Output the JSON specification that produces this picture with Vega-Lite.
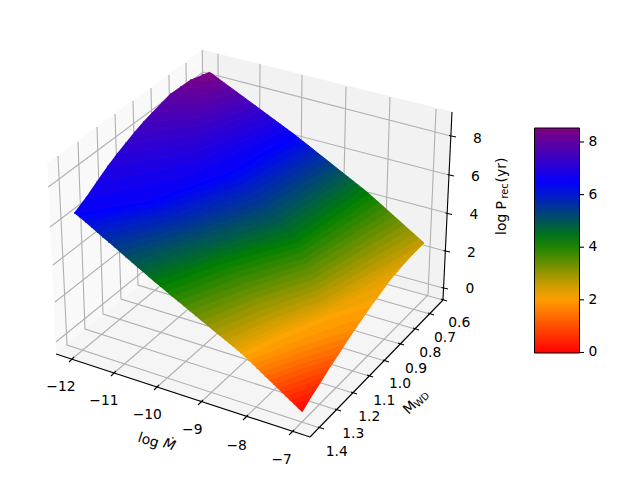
{"$schema":"https://vega.github.io/schema/vega-lite/v6.json","width":640,"height":480,"padding":0,"autosize":{"type":"none"},"background":"white","config":{"view":{"stroke":null},"text":{"font":"DejaVu Sans"}},
"datasets":{
"panes":[
{"g":"left","n":1,"u":47.3,"v":163.3},{"g":"left","n":2,"u":202.3,"v":50},{"g":"left","n":3,"u":204,"v":233},{"g":"left","n":4,"u":56,"v":354},
{"g":"back","n":1,"u":202.3,"v":50},{"g":"back","n":2,"u":451.7,"v":111.7},{"g":"back","n":3,"u":443,"v":300},{"g":"back","n":4,"u":204,"v":233},
{"g":"floor","n":1,"u":56,"v":354},{"g":"floor","n":2,"u":204,"v":233},{"g":"floor","n":3,"u":443,"v":300},{"g":"floor","n":4,"u":310,"v":437}],
"grid":[
{"g":"x12","n":1,"u":218,"v":54},{"g":"x12","n":2,"u":219,"v":237},{"g":"x12","n":3,"u":72,"v":359},
{"g":"x11","n":1,"u":260,"v":64},{"g":"x11","n":2,"u":259,"v":248},{"g":"x11","n":3,"u":114,"v":373},
{"g":"x10","n":1,"u":302,"v":75},{"g":"x10","n":2,"u":300,"v":260},{"g":"x10","n":3,"u":157,"v":387},
{"g":"x9","n":1,"u":346,"v":87},{"g":"x9","n":2,"u":342,"v":271},{"g":"x9","n":3,"u":201,"v":402},
{"g":"x8","n":1,"u":390,"v":97},{"g":"x8","n":2,"u":384,"v":283},{"g":"x8","n":3,"u":246,"v":417},
{"g":"x7","n":1,"u":436,"v":109},{"g":"x7","n":2,"u":428,"v":295},{"g":"x7","n":3,"u":292,"v":432},
{"g":"m14","n":1,"u":58,"v":156},{"g":"m14","n":2,"u":67,"v":345},{"g":"m14","n":3,"u":320,"v":428},
{"g":"m13","n":1,"u":78,"v":142},{"g":"m13","n":2,"u":85,"v":329},{"g":"m13","n":3,"u":337,"v":410},
{"g":"m12","n":1,"u":97,"v":127},{"g":"m12","n":2,"u":103,"v":314},{"g":"m12","n":3,"u":353,"v":393},
{"g":"m11","n":1,"u":115,"v":114},{"g":"m11","n":2,"u":121,"v":299},{"g":"m11","n":3,"u":369,"v":376},
{"g":"m10","n":1,"u":133,"v":101},{"g":"m10","n":2,"u":138,"v":285},{"g":"m10","n":3,"u":385,"v":361},
{"g":"m09","n":1,"u":151,"v":88},{"g":"m09","n":2,"u":155,"v":271},{"g":"m09","n":3,"u":400,"v":344},
{"g":"m08","n":1,"u":169,"v":75},{"g":"m08","n":2,"u":171,"v":257},{"g":"m08","n":3,"u":415,"v":329},
{"g":"m07","n":1,"u":186,"v":63},{"g":"m07","n":2,"u":188,"v":245},{"g":"m07","n":3,"u":430,"v":314},
{"g":"m06","n":1,"u":202.3,"v":50},{"g":"m06","n":2,"u":204,"v":233},{"g":"m06","n":3,"u":443,"v":300},
{"g":"z8","n":1,"u":48.3,"v":187},{"g":"z8","n":2,"u":203,"v":72},{"g":"z8","n":3,"u":451,"v":136},
{"g":"z6","n":1,"u":50,"v":227},{"g":"z6","n":2,"u":203,"v":111},{"g":"z6","n":3,"u":449,"v":175},
{"g":"z4","n":1,"u":53,"v":265},{"g":"z4","n":2,"u":203,"v":149},{"g":"z4","n":3,"u":447,"v":213},
{"g":"z2","n":1,"u":55,"v":302},{"g":"z2","n":2,"u":204,"v":185},{"g":"z2","n":3,"u":445,"v":251},
{"g":"z0","n":1,"u":56,"v":342},{"g":"z0","n":2,"u":204,"v":222},{"g":"z0","n":3,"u":443,"v":288}],
"axes":[
{"g":"a1","n":1,"u":56,"v":354},{"g":"a1","n":2,"u":310,"v":437},
{"g":"a2","n":1,"u":310,"v":437},{"g":"a2","n":2,"u":443,"v":300},
{"g":"a3","n":1,"u":443,"v":300},{"g":"a3","n":2,"u":452,"v":112},
{"g":"t1","n":1,"u":74,"v":357},{"g":"t1","n":2,"u":69,"v":362},
{"g":"t2","n":1,"u":116,"v":371},{"g":"t2","n":2,"u":111,"v":376},
{"g":"t3","n":1,"u":159,"v":385},{"g":"t3","n":2,"u":154,"v":390},
{"g":"t4","n":1,"u":203,"v":400},{"g":"t4","n":2,"u":198,"v":405},
{"g":"t5","n":1,"u":248,"v":415},{"g":"t5","n":2,"u":243,"v":420},
{"g":"t6","n":1,"u":294,"v":430},{"g":"t6","n":2,"u":289,"v":435},
{"g":"t7","n":1,"u":318,"v":427},{"g":"t7","n":2,"u":324,"v":429},
{"g":"t8","n":1,"u":335,"v":409},{"g":"t8","n":2,"u":341,"v":411},
{"g":"t9","n":1,"u":351,"v":392},{"g":"t9","n":2,"u":357,"v":394},
{"g":"t10","n":1,"u":367,"v":375},{"g":"t10","n":2,"u":373,"v":377},
{"g":"t11","n":1,"u":383,"v":360},{"g":"t11","n":2,"u":389,"v":362},
{"g":"t12","n":1,"u":398,"v":343},{"g":"t12","n":2,"u":404,"v":345},
{"g":"t13","n":1,"u":413,"v":328},{"g":"t13","n":2,"u":419,"v":330},
{"g":"t14","n":1,"u":428,"v":313},{"g":"t14","n":2,"u":434,"v":315},
{"g":"t15","n":1,"u":441,"v":299},{"g":"t15","n":2,"u":447,"v":301},
{"g":"t16","n":1,"u":449,"v":135.5},{"g":"t16","n":2,"u":456,"v":137},
{"g":"t17","n":1,"u":447.5,"v":174.5},{"g":"t17","n":2,"u":454,"v":176},
{"g":"t18","n":1,"u":445.5,"v":213},{"g":"t18","n":2,"u":452,"v":214.5},
{"g":"t19","n":1,"u":443.5,"v":250.5},{"g":"t19","n":2,"u":450,"v":252},
{"g":"t20","n":1,"u":441.5,"v":287.5},{"g":"t20","n":2,"u":448,"v":289},
{"g":"c0","n":1,"u":580,"v":352.5},{"g":"c0","n":2,"u":584,"v":352.5},
{"g":"c2","n":1,"u":580,"v":299.8},{"g":"c2","n":2,"u":584,"v":299.8},
{"g":"c4","n":1,"u":580,"v":247.2},{"g":"c4","n":2,"u":584,"v":247.2},
{"g":"c6","n":1,"u":580,"v":194.6},{"g":"c6","n":2,"u":584,"v":194.6},
{"g":"c8","n":1,"u":580,"v":142},{"g":"c8","n":2,"u":584,"v":142}],
"surface":[
{"hi":0.075,"n":1,"u":302,"v":412},
{"lo":0.075,"hi":0.225,"n":1,"u":297.9,"v":408},{"lo":0.075,"hi":0.225,"n":2,"u":306.5,"v":404.5},
{"lo":0.225,"hi":0.375,"n":1,"u":293.7,"v":404},{"lo":0.225,"hi":0.375,"n":2,"u":311,"v":397},
{"lo":0.375,"hi":0.525,"n":1,"u":289.6,"v":400},{"lo":0.375,"hi":0.525,"n":2,"u":315.5,"v":390},
{"lo":0.525,"hi":0.675,"n":1,"u":285.4,"v":396},{"lo":0.525,"hi":0.675,"n":2,"u":320,"v":383},
{"lo":0.675,"hi":0.825,"n":1,"u":281.3,"v":392},{"lo":0.675,"hi":0.825,"n":2,"u":324,"v":376.5},
{"lo":0.825,"hi":0.975,"n":1,"u":277.2,"v":388.1},{"lo":0.825,"hi":0.975,"n":2,"u":328,"v":370},
{"lo":0.975,"hi":1.125,"n":1,"u":273,"v":384.1},{"lo":0.975,"hi":1.125,"n":2,"u":302.5,"v":373},{"lo":0.975,"hi":1.125,"n":3,"u":332,"v":364},
{"lo":1.125,"hi":1.275,"n":1,"u":268.9,"v":380.1},{"lo":1.125,"hi":1.275,"n":2,"u":302,"v":368},{"lo":1.125,"hi":1.275,"n":3,"u":336,"v":358},
{"lo":1.275,"hi":1.425,"n":1,"u":264.7,"v":376.1},{"lo":1.275,"hi":1.425,"n":2,"u":302,"v":363},{"lo":1.275,"hi":1.425,"n":3,"u":340,"v":352},
{"lo":1.425,"hi":1.575,"n":1,"u":260.6,"v":372.1},{"lo":1.425,"hi":1.575,"n":2,"u":303,"v":357},{"lo":1.425,"hi":1.575,"n":3,"u":345,"v":344},
{"lo":1.575,"hi":1.725,"n":1,"u":256.5,"v":368.1},{"lo":1.575,"hi":1.725,"n":2,"u":303,"v":351},{"lo":1.575,"hi":1.725,"n":3,"u":350,"v":336.5},
{"lo":1.725,"hi":1.875,"n":1,"u":252.3,"v":364.1},{"lo":1.725,"hi":1.875,"n":2,"u":303.5,"v":345},{"lo":1.725,"hi":1.875,"n":3,"u":355,"v":329},
{"lo":1.875,"hi":2.025,"n":1,"u":248.2,"v":360.1},{"lo":1.875,"hi":2.025,"n":2,"u":305,"v":337},{"lo":1.875,"hi":2.025,"n":3,"u":363,"v":317.5},
{"lo":2.025,"hi":2.15,"n":1,"u":244,"v":356.1},{"lo":2.025,"hi":2.15,"n":2,"u":286,"v":337},{"lo":2.025,"hi":2.15,"n":3,"u":329,"v":319},{"lo":2.025,"hi":2.15,"n":4,"u":370.6,"v":306.5},
{"lo":2.15,"hi":2.25,"n":1,"u":240.6,"v":353.1},{"lo":2.15,"hi":2.25,"n":2,"u":283,"v":333},{"lo":2.15,"hi":2.25,"n":3,"u":327,"v":315},{"lo":2.15,"hi":2.25,"n":4,"u":377,"v":298},
{"lo":2.25,"hi":2.35,"n":1,"u":236.7,"v":349.8},{"lo":2.25,"hi":2.35,"n":2,"u":281,"v":329},{"lo":2.25,"hi":2.35,"n":3,"u":326,"v":311},{"lo":2.25,"hi":2.35,"n":4,"u":390,"v":280},
{"lo":2.35,"hi":2.45,"n":1,"u":232.8,"v":346.6},{"lo":2.35,"hi":2.45,"n":2,"u":278,"v":326},{"lo":2.35,"hi":2.45,"n":3,"u":324,"v":308},{"lo":2.35,"hi":2.45,"n":4,"u":402,"v":266},
{"lo":2.45,"hi":2.55,"n":1,"u":228.9,"v":343.3},{"lo":2.45,"hi":2.55,"n":2,"u":275,"v":322},{"lo":2.45,"hi":2.55,"n":3,"u":323,"v":304},{"lo":2.45,"hi":2.55,"n":4,"u":413,"v":254},
{"lo":2.55,"hi":2.675,"n":1,"u":224.9,"v":340.1},{"lo":2.55,"hi":2.675,"n":2,"u":272,"v":319},{"lo":2.55,"hi":2.675,"n":3,"u":321,"v":301},{"lo":2.55,"hi":2.675,"n":4,"u":424,"v":243},
{"lo":2.675,"hi":2.825,"n":1,"u":219,"v":335.2},{"lo":2.675,"hi":2.825,"n":2,"u":268,"v":314},{"lo":2.675,"hi":2.825,"n":3,"u":319,"v":295},{"lo":2.675,"hi":2.825,"n":4,"u":419,"v":238.5},
{"lo":2.825,"hi":2.975,"n":1,"u":213.1,"v":330.4},{"lo":2.825,"hi":2.975,"n":2,"u":264,"v":309},{"lo":2.825,"hi":2.975,"n":3,"u":317,"v":290},{"lo":2.825,"hi":2.975,"n":4,"u":414,"v":234},
{"lo":2.975,"hi":3.125,"n":1,"u":207.2,"v":325.5},{"lo":2.975,"hi":3.125,"n":2,"u":260,"v":303},{"lo":2.975,"hi":3.125,"n":3,"u":315,"v":285},{"lo":2.975,"hi":3.125,"n":4,"u":408.9,"v":229.5},
{"lo":3.125,"hi":3.275,"n":1,"u":201.3,"v":320.7},{"lo":3.125,"hi":3.275,"n":2,"u":256,"v":298},{"lo":3.125,"hi":3.275,"n":3,"u":313,"v":279},{"lo":3.125,"hi":3.275,"n":4,"u":403.9,"v":225},
{"lo":3.275,"hi":3.425,"n":1,"u":195.4,"v":315.8},{"lo":3.275,"hi":3.425,"n":2,"u":252,"v":293},{"lo":3.275,"hi":3.425,"n":3,"u":311,"v":274},{"lo":3.275,"hi":3.425,"n":4,"u":398.9,"v":220.5},
{"lo":3.425,"hi":3.575,"n":1,"u":189.6,"v":310.9},{"lo":3.425,"hi":3.575,"n":2,"u":248,"v":288},{"lo":3.425,"hi":3.575,"n":3,"u":308,"v":268},{"lo":3.425,"hi":3.575,"n":4,"u":393.8,"v":216},
{"lo":3.575,"hi":3.725,"n":1,"u":183.7,"v":306.1},{"lo":3.575,"hi":3.725,"n":2,"u":244,"v":283},{"lo":3.575,"hi":3.725,"n":3,"u":306,"v":263},{"lo":3.575,"hi":3.725,"n":4,"u":388.8,"v":211.5},
{"lo":3.725,"hi":3.875,"n":1,"u":177.8,"v":301.2},{"lo":3.725,"hi":3.875,"n":2,"u":240,"v":277},{"lo":3.725,"hi":3.875,"n":3,"u":304,"v":258},{"lo":3.725,"hi":3.875,"n":4,"u":383.8,"v":207},
{"lo":3.875,"hi":4.025,"n":1,"u":171.9,"v":296.4},{"lo":3.875,"hi":4.025,"n":2,"u":236,"v":272},{"lo":3.875,"hi":4.025,"n":3,"u":302,"v":252},{"lo":3.875,"hi":4.025,"n":4,"u":378.8,"v":202.5},
{"lo":4.025,"hi":4.175,"n":1,"u":166,"v":291.5},{"lo":4.025,"hi":4.175,"n":2,"u":231,"v":267},{"lo":4.025,"hi":4.175,"n":3,"u":300,"v":247},{"lo":4.025,"hi":4.175,"n":4,"u":373.7,"v":198},
{"lo":4.175,"hi":4.325,"n":1,"u":160.1,"v":286.6},{"lo":4.175,"hi":4.325,"n":2,"u":227,"v":262},{"lo":4.175,"hi":4.325,"n":3,"u":298,"v":242},{"lo":4.175,"hi":4.325,"n":4,"u":368.7,"v":193.5},
{"lo":4.325,"hi":4.475,"n":1,"u":154.2,"v":281.7},{"lo":4.325,"hi":4.475,"n":2,"u":222,"v":257},{"lo":4.325,"hi":4.475,"n":3,"u":294,"v":237},{"lo":4.325,"hi":4.475,"n":4,"u":363.7,"v":189.4},
{"lo":4.475,"hi":4.625,"n":1,"u":148.5,"v":276.8},{"lo":4.475,"hi":4.625,"n":2,"u":217,"v":253},{"lo":4.475,"hi":4.625,"n":3,"u":289,"v":232},{"lo":4.475,"hi":4.625,"n":4,"u":358.6,"v":185.4},
{"lo":4.625,"hi":4.775,"n":1,"u":142.7,"v":271.8},{"lo":4.625,"hi":4.775,"n":2,"u":212,"v":249},{"lo":4.625,"hi":4.775,"n":3,"u":284,"v":227},{"lo":4.625,"hi":4.775,"n":4,"u":353.6,"v":181.4},
{"lo":4.775,"hi":4.925,"n":1,"u":137,"v":266.9},{"lo":4.775,"hi":4.925,"n":2,"u":207,"v":245},{"lo":4.775,"hi":4.925,"n":3,"u":279,"v":223},{"lo":4.775,"hi":4.925,"n":4,"u":348.6,"v":177.4},
{"lo":4.925,"hi":5.075,"n":1,"u":131.3,"v":261.9},{"lo":4.925,"hi":5.075,"n":2,"u":201,"v":240},{"lo":4.925,"hi":5.075,"n":3,"u":275,"v":218},{"lo":4.925,"hi":5.075,"n":4,"u":343.6,"v":173.5},
{"lo":5.075,"hi":5.225,"n":1,"u":125.5,"v":257},{"lo":5.075,"hi":5.225,"n":2,"u":196,"v":236},{"lo":5.075,"hi":5.225,"n":3,"u":270,"v":213},{"lo":5.075,"hi":5.225,"n":4,"u":338.5,"v":169.5},
{"lo":5.225,"hi":5.375,"n":1,"u":119.8,"v":252},{"lo":5.225,"hi":5.375,"n":2,"u":191,"v":232},{"lo":5.225,"hi":5.375,"n":3,"u":265,"v":208},{"lo":5.225,"hi":5.375,"n":4,"u":333.5,"v":165.5},
{"lo":5.375,"hi":5.525,"n":1,"u":114.1,"v":247},{"lo":5.375,"hi":5.525,"n":2,"u":185,"v":228},{"lo":5.375,"hi":5.525,"n":3,"u":260,"v":204},{"lo":5.375,"hi":5.525,"n":4,"u":328.5,"v":161.5},
{"lo":5.525,"hi":5.675,"n":1,"u":108.3,"v":242.1},{"lo":5.525,"hi":5.675,"n":2,"u":180,"v":224},{"lo":5.525,"hi":5.675,"n":3,"u":255,"v":199},{"lo":5.525,"hi":5.675,"n":4,"u":323.5,"v":157.6},
{"lo":5.675,"hi":5.825,"n":1,"u":102.6,"v":237.2},{"lo":5.675,"hi":5.825,"n":2,"u":175,"v":220},{"lo":5.675,"hi":5.825,"n":3,"u":250,"v":194},{"lo":5.675,"hi":5.825,"n":4,"u":318.4,"v":153.6},
{"lo":5.825,"hi":5.975,"n":1,"u":96.9,"v":232.2},{"lo":5.825,"hi":5.975,"n":2,"u":169,"v":215},{"lo":5.825,"hi":5.975,"n":3,"u":246,"v":189},{"lo":5.825,"hi":5.975,"n":4,"u":313.4,"v":149.6},
{"lo":5.975,"hi":6.125,"n":1,"u":91.2,"v":227.3},{"lo":5.975,"hi":6.125,"n":2,"u":164,"v":211},{"lo":5.975,"hi":6.125,"n":3,"u":241,"v":185},{"lo":5.975,"hi":6.125,"n":4,"u":308.4,"v":145.6},
{"lo":6.125,"hi":6.275,"n":1,"u":85.4,"v":222.3},{"lo":6.125,"hi":6.275,"n":2,"u":159,"v":207},{"lo":6.125,"hi":6.275,"n":3,"u":236,"v":180},{"lo":6.125,"hi":6.275,"n":4,"u":303.4,"v":141.7},
{"lo":6.275,"hi":6.425,"n":1,"u":79.7,"v":217.4},{"lo":6.275,"hi":6.425,"n":2,"u":154,"v":203},{"lo":6.275,"hi":6.425,"n":3,"u":231,"v":175},{"lo":6.275,"hi":6.425,"n":4,"u":298.3,"v":137.7},
{"lo":6.425,"hi":6.575,"n":1,"u":74,"v":213},{"lo":6.425,"hi":6.575,"n":2,"u":150,"v":200},{"lo":6.425,"hi":6.575,"n":3,"u":228,"v":172},{"lo":6.425,"hi":6.575,"n":4,"u":293,"v":133.5},
{"lo":6.575,"hi":6.725,"n":1,"u":85.8,"v":197.4},{"lo":6.575,"hi":6.725,"n":2,"u":190,"v":175},{"lo":6.575,"hi":6.725,"n":3,"u":286.7,"v":128.9},
{"lo":6.725,"hi":6.875,"n":1,"u":96.6,"v":181.8},{"lo":6.725,"hi":6.875,"n":2,"u":192,"v":163.6},{"lo":6.725,"hi":6.875,"n":3,"u":280.5,"v":124.3},
{"lo":6.875,"hi":7.025,"n":1,"u":107.4,"v":166.2},{"lo":6.875,"hi":7.025,"n":2,"u":194,"v":152.5},{"lo":6.875,"hi":7.025,"n":3,"u":274.3,"v":119.8},
{"lo":7.025,"hi":7.175,"n":1,"u":116.8,"v":153.8},{"lo":7.025,"hi":7.175,"n":2,"u":195,"v":143},{"lo":7.025,"hi":7.175,"n":3,"u":268.1,"v":115.2},
{"lo":7.175,"hi":7.325,"n":1,"u":125.5,"v":143},{"lo":7.175,"hi":7.325,"n":2,"u":196,"v":134.5},{"lo":7.175,"hi":7.325,"n":3,"u":261.9,"v":110.6},
{"lo":7.325,"hi":7.475,"n":1,"u":134.2,"v":132.2},{"lo":7.325,"hi":7.475,"n":2,"u":197,"v":126},{"lo":7.325,"hi":7.475,"n":3,"u":255.7,"v":106},
{"lo":7.475,"hi":7.625,"n":1,"u":143,"v":121.9},{"lo":7.475,"hi":7.625,"n":2,"u":198,"v":117.7},{"lo":7.475,"hi":7.625,"n":3,"u":249.5,"v":101.5},
{"lo":7.625,"hi":7.775,"n":1,"u":152,"v":112.6},{"lo":7.625,"hi":7.775,"n":2,"u":199,"v":110},{"lo":7.625,"hi":7.775,"n":3,"u":243.3,"v":96.9},
{"lo":7.775,"hi":7.925,"n":1,"u":161,"v":103.3},{"lo":7.775,"hi":7.925,"n":2,"u":200.3,"v":102},{"lo":7.775,"hi":7.925,"n":3,"u":237,"v":92.3},
{"lo":7.925,"hi":8.075,"n":1,"u":170,"v":94},{"lo":7.925,"hi":8.075,"n":2,"u":201.4,"v":94.3},{"lo":7.925,"hi":8.075,"n":3,"u":230.8,"v":87.7},
{"lo":8.075,"hi":8.225,"n":1,"u":180,"v":87},{"lo":8.075,"hi":8.225,"n":2,"u":203,"v":87.5},{"lo":8.075,"hi":8.225,"n":3,"u":224.6,"v":83.2},
{"lo":8.225,"hi":8.375,"n":1,"u":190,"v":80},{"lo":8.225,"hi":8.375,"n":2,"u":205,"v":81},{"lo":8.225,"hi":8.375,"n":3,"u":218.4,"v":78.6},
{"lo":8.375,"hi":8.5,"n":1,"u":201.4,"v":75.2},{"lo":8.375,"hi":8.5,"n":2,"u":212.2,"v":74},
{"lo":8.5,"n":1,"u":209,"v":72}],
"labels":[
{"t":"−12","u":61,"v":387.3},{"t":"−11","u":104,"v":401.3},{"t":"−10","u":147.3,"v":415.3},{"t":"−9","u":192.3,"v":430},{"t":"−8","u":236.7,"v":445.7},{"t":"−7","u":281.7,"v":460},
{"t":"0.6","u":459.3,"v":323.3},{"t":"0.7","u":445,"v":338.3},{"t":"0.8","u":430.3,"v":353.3},{"t":"0.9","u":416,"v":369.3},{"t":"1.0","u":400,"v":384},{"t":"1.1","u":384.3,"v":401},{"t":"1.2","u":369.3,"v":417.3},{"t":"1.3","u":353.3,"v":434},{"t":"1.4","u":336.7,"v":451.7},
{"t":"8","u":477.3,"v":139.3},{"t":"6","u":475.3,"v":177.3},{"t":"4","u":474,"v":215},{"t":"2","u":471.3,"v":253.3},{"t":"0","u":470,"v":289.3}]
},
"layer":[
{"data":{"name":"panes"},"transform":[{"filter":"datum.g==='left'"}],"mark":{"type":"line","fill":"#f9f9f9","stroke":"#f9f9f9","strokeWidth":0.5,"clip":false},"encoding":{"x":{"field":"u","type":"quantitative","scale":{"domain":[0,640],"nice":false,"zero":false},"axis":null},"y":{"field":"v","type":"quantitative","scale":{"domain":[0,480],"reverse":true,"nice":false,"zero":false},"axis":null},"order":{"field":"n"}}},
{"data":{"name":"panes"},"transform":[{"filter":"datum.g==='back'"}],"mark":{"type":"line","fill":"#f2f2f2","stroke":"#f2f2f2","strokeWidth":0.5},"encoding":{"x":{"field":"u","type":"quantitative"},"y":{"field":"v","type":"quantitative"},"order":{"field":"n"}}},
{"data":{"name":"panes"},"transform":[{"filter":"datum.g==='floor'"}],"mark":{"type":"line","fill":"#f5f5f5","stroke":"#f5f5f5","strokeWidth":0.5},"encoding":{"x":{"field":"u","type":"quantitative"},"y":{"field":"v","type":"quantitative"},"order":{"field":"n"}}},
{"data":{"name":"grid"},"mark":{"type":"line","stroke":"#b0b0b0","strokeWidth":1.1},"encoding":{"x":{"field":"u","type":"quantitative"},"y":{"field":"v","type":"quantitative"},"detail":{"field":"g"},"order":{"field":"n"}}},
{"data":{"name":"axes"},"mark":{"type":"line","stroke":"#000000","strokeWidth":1.1},"encoding":{"x":{"field":"u","type":"quantitative"},"y":{"field":"v","type":"quantitative"},"detail":{"field":"g"},"order":{"field":"n"}}},
{"data":{"values":[{"P":0,"u":300,"v":290},{"P":8.55,"u":300,"v":290}]},"mark":{"type":"rect","width":1,"height":1},"encoding":{"x":{"field":"u","type":"quantitative"},"y":{"field":"v","type":"quantitative"},
"color":{"field":"P","type":"quantitative","scale":{"domain":[-0.02,2.1225,4.265,6.4075,8.55],"range":["#ff0000","#ffa500","#008000","#0000ff","#800080"],"interpolate":"rgb"},"legend":{"orient":"none","legendX":534.5,"legendY":128,"title":null,"direction":"vertical","gradientLength":225,"gradientThickness":45,"gradientStrokeColor":"#000000","gradientStrokeWidth":1,"values":[0,2,4,6,8],"labelFont":"DejaVu Sans","labelFontSize":13.89,"labelColor":"#000000","labelOffset":9,"labelBaseline":"middle","labelOverlap":false}}}},
{"data":{"name":"surface"},"transform":[{"fold":["lo","hi"],"as":["side","P"]},{"filter":"isValid(datum.P)"},{"calculate":"datum.side==='hi'?datum.n:100-datum.n","as":"o"}],"mark":{"type":"line","strokeWidth":0.9,"strokeJoin":"round"},"encoding":{"x":{"field":"u","type":"quantitative"},"y":{"field":"v","type":"quantitative"},"detail":{"field":"P"},"order":{"field":"o"},
"fill":{"field":"P","type":"quantitative","scale":{"domain":[-0.021,2.1225,4.265,6.4075,8.55],"range":["#ff0000","#ffa500","#008000","#0000ff","#800080"],"interpolate":"rgb"},"legend":null},
"stroke":{"field":"P","type":"quantitative","scale":{"domain":[-0.022,2.1225,4.265,6.4075,8.55],"range":["#ff0000","#ffa500","#008000","#0000ff","#800080"],"interpolate":"rgb"},"legend":null}}},
{"data":{"name":"labels"},"mark":{"type":"text","font":"DejaVu Sans","fontSize":13.89,"fill":"#000000","align":"center","baseline":"middle"},"encoding":{"x":{"field":"u","type":"quantitative"},"y":{"field":"v","type":"quantitative"},"text":{"field":"t"}}},
{"data":{"values":[{"t":"log","u":148.3,"v":440.7}]},"mark":{"type":"text","font":"DejaVu Sans","fontSize":13.89,"fill":"#000000","angle":18,"align":"center","baseline":"middle"},"encoding":{"x":{"field":"u","type":"quantitative"},"y":{"field":"v","type":"quantitative"},"text":{"field":"t"}}},
{"data":{"values":[{"t":"Ṁ","u":169.3,"v":445}]},"mark":{"type":"text","font":"DejaVu Sans","fontSize":13.89,"fontStyle":"italic","fill":"#000000","angle":18,"align":"center","baseline":"middle"},"encoding":{"x":{"field":"u","type":"quantitative"},"y":{"field":"v","type":"quantitative"},"text":{"field":"t"}}},
{"data":{"values":[{"t":"M","u":410,"v":408}]},"mark":{"type":"text","font":"DejaVu Sans","fontSize":13.89,"fill":"#000000","angle":-44,"align":"center","baseline":"middle"},"encoding":{"x":{"field":"u","type":"quantitative"},"y":{"field":"v","type":"quantitative"},"text":{"field":"t"}}},
{"data":{"values":[{"t":"WD","u":422,"v":400}]},"mark":{"type":"text","font":"DejaVu Sans","fontSize":9.7,"fill":"#000000","angle":-44,"align":"center","baseline":"middle"},"encoding":{"x":{"field":"u","type":"quantitative"},"y":{"field":"v","type":"quantitative"},"text":{"field":"t"}}},
{"data":{"values":[{"t":"log P","u":501.7,"v":218},{"t":"(yr)","u":501.7,"v":170}]},"mark":{"type":"text","font":"DejaVu Sans","fontSize":13.89,"fill":"#000000","angle":-90,"align":"center","baseline":"middle"},"encoding":{"x":{"field":"u","type":"quantitative"},"y":{"field":"v","type":"quantitative"},"text":{"field":"t"}}},
{"data":{"values":[{"t":"rec","u":504.5,"v":191}]},"mark":{"type":"text","font":"DejaVu Sans","fontSize":9.7,"fill":"#000000","angle":-90,"align":"center","baseline":"middle"},"encoding":{"x":{"field":"u","type":"quantitative"},"y":{"field":"v","type":"quantitative"},"text":{"field":"t"}}}
]}
